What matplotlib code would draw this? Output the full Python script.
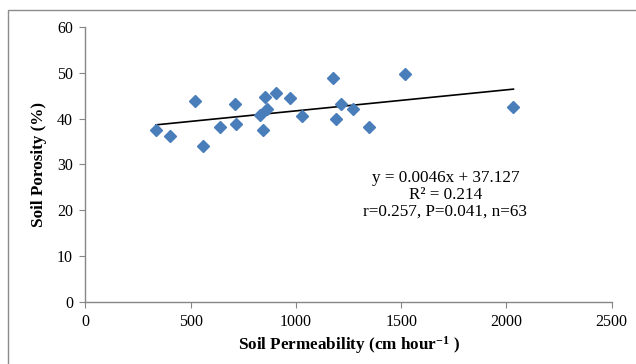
# Soil porosity vs soil permeability scatter with linear trendline

import matplotlib
matplotlib.use("Agg")
import matplotlib.pyplot as plt
import numpy as np

plt.rcParams["font.family"] = ["Liberation Serif", "DejaVu Serif"]
plt.rcParams["mathtext.fontset"] = "custom"
plt.rcParams["mathtext.rm"] = "Liberation Serif"
plt.rcParams["mathtext.bf"] = "Liberation Serif:bold"

# data
permeability = [335, 403, 518, 556, 637, 708, 713, 829, 852, 863, 841,
                905, 971, 1027, 1177, 1215, 1188, 1272, 1345, 1519, 2033]
porosity = [37.6, 36.3, 43.8, 34.1, 38.1, 43.3, 38.8, 40.8, 44.7, 42.1, 37.5,
            45.7, 44.5, 40.5, 48.9, 43.2, 40.0, 42.1, 38.3, 49.7, 42.5]

slope = 0.0046
intercept = 37.127
eq_text = "y = 0.0046x + 37.127\nR\u00b2 = 0.214\nr=0.257, P=0.041, n=63"

fig = plt.figure(figsize=(6.36, 3.64), dpi=100)
ax = fig.add_axes([0.1344, 0.1712, 0.9618 - 0.1344, 0.925 - 0.1712])

# outer chart border (left and top visible)
border = plt.Rectangle((8 / 636, -0.1), 1.2, 1.1 - 10 / 364,
                       transform=fig.transFigure, fill=False,
                       edgecolor="#8c8c8c", linewidth=1.0)
fig.patches.append(border)

ax.plot(permeability, porosity, "D", color="#4a7ebb", ms=6.2, zorder=3)

xfit = np.array([min(permeability), max(permeability)])
ax.plot(xfit, slope * xfit + intercept, "-", color="black", linewidth=1.2)

ax.text(1710, 23.4, eq_text, ha="center", va="center", fontsize=12.3,
        linespacing=1.05)

ax.set_xlim(0, 2500)
ax.set_ylim(0, 60)
ax.set_xticks(range(0, 2501, 500))
ax.set_yticks(range(0, 61, 10))

for side in ["top", "right"]:
    ax.spines[side].set_visible(False)
for side in ["left", "bottom"]:
    ax.spines[side].set_color("#868686")
    ax.spines[side].set_linewidth(1.0)
ax.tick_params(direction="out", length=4, color="#868686", labelsize=11.5,
               pad=5)

ax.set_xlabel(r"Soil Permeability (cm hour$\mathbf{^{-1}}$ )", fontsize=12.3,
              fontweight="bold", labelpad=3)
ax.set_ylabel("Soil Porosity (%)", fontsize=12.3, fontweight="bold",
              labelpad=7)

fig.savefig("out.png", dpi=100)
